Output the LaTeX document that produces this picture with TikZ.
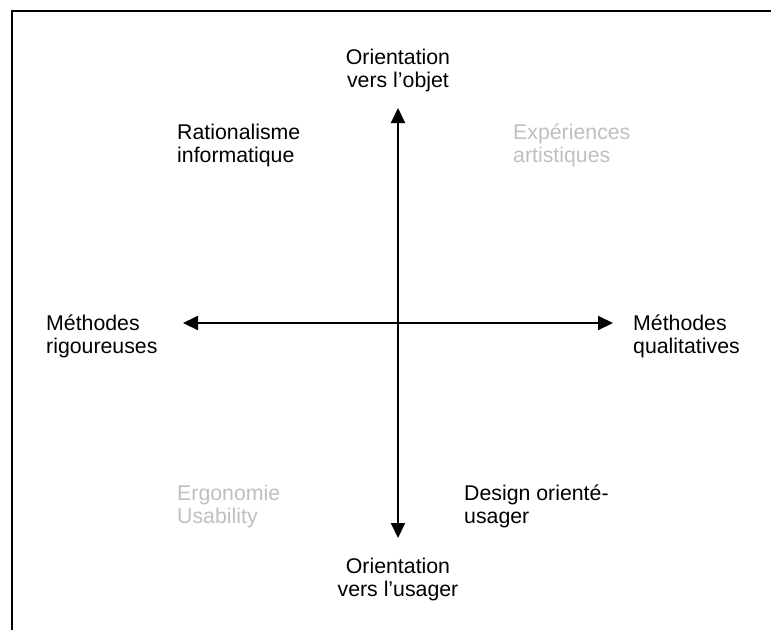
\documentclass[tikz,border=0pt]{standalone}
\usepackage{fontspec}
\setmainfont{Liberation Sans}
\usetikzlibrary{arrows.meta}
\definecolor{lightgr}{HTML}{BFBFBF}
\begin{document}
\begin{tikzpicture}[x=1pt,y=-1pt,
  lbl/.style={inner sep=0pt,align=left,font=\fontsize{21.3}{23.5}\selectfont},
  clbl/.style={inner sep=0pt,align=center,font=\fontsize{21.3}{23.5}\selectfont},
  faded/.style={text=lightgr},
  axis/.style={line width=2pt,{Triangle[length=15pt,width=14pt]}-{Triangle[length=15pt,width=14pt]}},
  frame/.style={line width=2pt}]
\useasboundingbox (0,0) rectangle (771,630);
\coordinate (fl) at (12,630);
\coordinate (fc) at (12,11);
\coordinate (fr) at (771,11);
\draw[frame] (fl) -- (fc) -- (fr);
\coordinate (vt) at (398,108);
\coordinate (vb) at (398,538);
\coordinate (hl) at (183,323);
\coordinate (hr) at (613,323);
\draw[axis] (vt) -- (vb);
\draw[axis] (hl) -- (hr);
\node[clbl] (top) at (398,70.5) {Orientation\\vers l’objet};
\node[clbl] (bot) at (398,579.5) {Orientation\\vers l’usager};
\node[lbl,anchor=west] (lm) at (46,336.5) {Méthodes\\rigoureuses};
\node[lbl,anchor=west] (rm) at (633,336.5) {Méthodes\\qualitatives};
\node[lbl,anchor=west] (ri) at (177,145.5) {Rationalisme\\informatique};
\node[lbl,anchor=west,faded] (ea) at (513,145.5) {Expériences\\artistiques};
\node[lbl,anchor=west,faded] (eu) at (177,506.5) {Ergonomie\\Usability};
\node[lbl,anchor=west] (du) at (464,506.5) {Design orienté-\\usager};
\end{tikzpicture}
\end{document}
